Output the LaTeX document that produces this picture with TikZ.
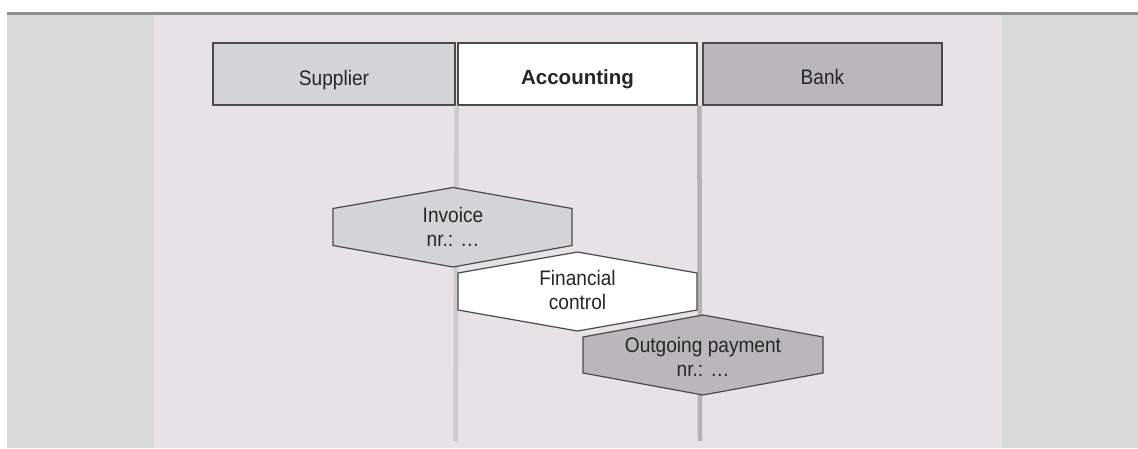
\documentclass[tikz,border=0pt]{standalone}
\usepackage{fontspec}
\setmainfont{Liberation Sans}
\newfontfamily\cond[FakeStretch=0.91]{Liberation Sans}
\definecolor{side}{HTML}{D9D9D9}
\definecolor{bgc}{HTML}{E6E2E5}
\definecolor{topline}{HTML}{8E8E8E}
\definecolor{lightbox}{HTML}{D4D4D6}
\definecolor{darkbox}{HTML}{B9B7BA}
\definecolor{edge}{HTML}{4A4A4A}
\definecolor{laneA}{HTML}{CDCACD}
\definecolor{laneB}{HTML}{B3B1B4}
\definecolor{txt}{HTML}{262626}
\begin{document}
\begin{tikzpicture}[x=1pt,y=-1pt,
  hdr/.style={draw=edge,line width=1.3pt,rectangle,minimum height=62pt,inner sep=0pt,
    text=txt,font=\cond\fontsize{21}{24}\selectfont,text height=22pt,text depth=0pt},
  hexbox/.style={draw=edge,line width=1.2pt,line join=miter},
  lbl/.style={align=center,inner sep=0pt,anchor=base,text=txt,font=\cond\fontsize{21}{23.5}\selectfont},
  lane/.style={line width=4.5pt}]
\useasboundingbox (0,0) rectangle (1138,448);
\fill[white] (0,0) rectangle (1138,448);
\fill[side] (7,14) rectangle (154,448);
\fill[side] (1002,14) rectangle (1138,448);
\fill[bgc] (154,14) rectangle (1002,448);
\fill[topline] (7,12) rectangle (1138,14.5);
% header boxes
\node[hdr,fill=lightbox,minimum width=242pt] (sup) at (334,74) {Supplier};
\node[hdr,fill=white,minimum width=239pt,font=\bfseries\fontsize{20.5}{24}\selectfont,text height=20pt] (acc) at (577.5,74) {Accounting};
\node[hdr,fill=darkbox,minimum width=239pt,text height=20pt] (bank) at (822.5,74) {Bank};
% lane lines
\coordinate (endA) at (455.5,441);
\coordinate (endB) at (700,441);
\draw[lane,laneA] (sup.south east) ++(1,0) -- (endA);
\draw[lane,laneB] (bank.south west) ++(-3,0) -- (endB);
% hexagons
\path[hexbox,fill=lightbox] (453,227) ++(-120,-18.5) -- ++(120,-21) -- ++(119,21) -- ++(0,37) -- ++(-119,21.5) -- ++(-120,-21.5) -- cycle;
\node[lbl] (inv) at (453,246) {Invoice\\nr.: …};
\path[hexbox,fill=white] (577.5,291.5) ++(-119.5,-18.5) -- ++(119.5,-21) -- ++(119.5,21) -- ++(0,37) -- ++(-119.5,21) -- ++(-119.5,-21) -- cycle;
\node[lbl] (fin) at (577.5,309) {Financial\\control};
\path[hexbox,fill=darkbox] (703,355) ++(-120,-18) -- ++(120,-22) -- ++(120,22) -- ++(0,36) -- ++(-120,22) -- ++(-120,-22) -- cycle;
\node[lbl] (pay) at (703,376) {Outgoing payment\\nr.: …};
\end{tikzpicture}
\end{document}
